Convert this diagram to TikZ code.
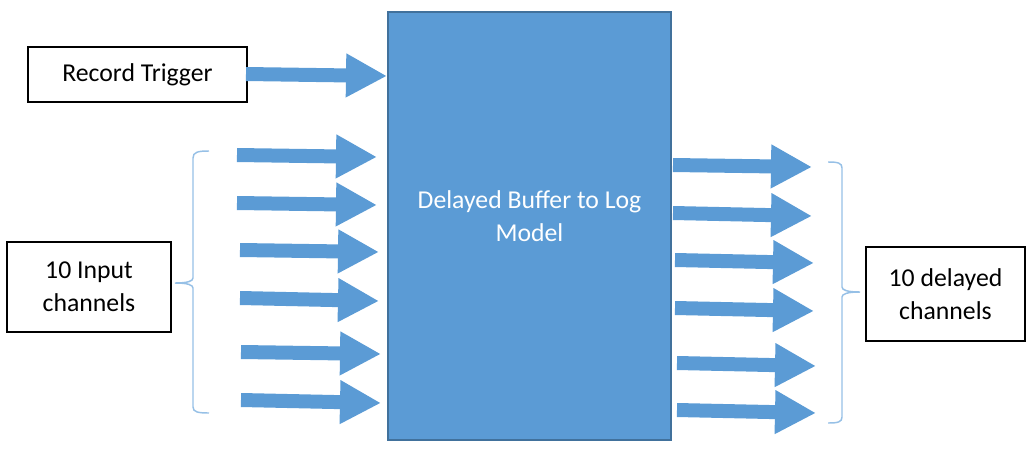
\documentclass[tikz,border=0pt]{standalone}
\usepackage{fontspec}
\setmainfont{Carlito}
\usetikzlibrary{arrows.meta}
\definecolor{blockblue}{RGB}{91,155,213}
\definecolor{blockedge}{RGB}{65,113,156}
\definecolor{braceblue}{RGB}{150,192,230}
\begin{document}
\begin{tikzpicture}[x=0.75pt, y=-0.75pt]
        \tikzstyle{boxstyle}=[draw=black, line width=1pt, fill=white, align=center, font=\fontsize{19.3}{24.5}\selectfont]
        \tikzstyle{fatarrow}=[draw=blockblue, line width=10.5pt, -{Triangle[length=30.75pt, width=30.75pt]}]
        \tikzstyle{bracestyle}=[draw=braceblue, line width=1.1pt]
        \useasboundingbox (0, 0) rectangle (1031, 454);

        % the big model block in the middle
        \node[draw=blockedge, line width=1.5pt, fill=blockblue, minimum width=212.25pt, minimum height=321pt] at (529.5, 226) (model) {};
        \node[align=center, text=white, font=\fontsize{19.3}{24.5}\selectfont] at (529.5, 216) (modeltext) {Delayed Buffer to Log\\Model};

        % the boxes round it
        \node[boxstyle, minimum width=164.25pt, minimum height=41.25pt] at (137.5, 74.5) (trigger) {Record Trigger};
        \node[boxstyle, minimum width=123pt, minimum height=67.5pt] at (89, 287) (inputs) {10 Input\\channels};
        \node[boxstyle, minimum width=119.25pt, minimum height=70.5pt] at (945.5, 294) (outputs) {10 delayed\\channels};

        % trigger arrow into the block
        \coordinate (trig a) at (246, 74);
        \coordinate (trig b) at (387, 76);
        \draw[fatarrow] (trig a) -- (trig b);

        % input arrows
        \foreach \n/\xa/\ya/\xb/\yb in {1/237/155/377/157, 2/237/203/377/205, 3/240/250/379/252,
                                        4/240/298/379/301, 5/241/352/381/354, 6/241/400/381/403}
        {
          \coordinate (in\n a) at (\xa, \ya);
          \coordinate (in\n b) at (\xb, \yb);
          \draw[fatarrow] (in\n a) -- (in\n b);
        };

        % output arrows
        \foreach \n/\xa/\ya/\xb/\yb in {1/673/165/812/167, 2/673/213/812/216, 3/675/260/814/263,
                                        4/675/308/814/311, 5/677/363/816/366, 6/677/410/816/413}
        {
          \coordinate (out\n a) at (\xa, \ya);
          \coordinate (out\n b) at (\xb, \yb);
          \draw[fatarrow] (out\n a) -- (out\n b);
        };

        % brace grouping the inputs
        \draw[bracestyle] (209, 151) .. controls (198, 151) and (193, 152) .. (193, 158) -- (193, 278)
          .. controls (193, 281) and (188, 283) .. (175, 283)
          .. controls (188, 283) and (193, 285) .. (193, 288) -- (193, 407)
          .. controls (193, 412) and (198, 413) .. (209, 413);

        % brace grouping the outputs
        \draw[bracestyle] (828, 162) .. controls (838, 162) and (842, 163) .. (842, 168) -- (842, 287)
          .. controls (842, 290) and (847, 292) .. (860, 292)
          .. controls (847, 292) and (842, 294) .. (842, 297) -- (842, 417)
          .. controls (842, 422) and (838, 423) .. (828, 423);
    \end{tikzpicture}
\end{document}
